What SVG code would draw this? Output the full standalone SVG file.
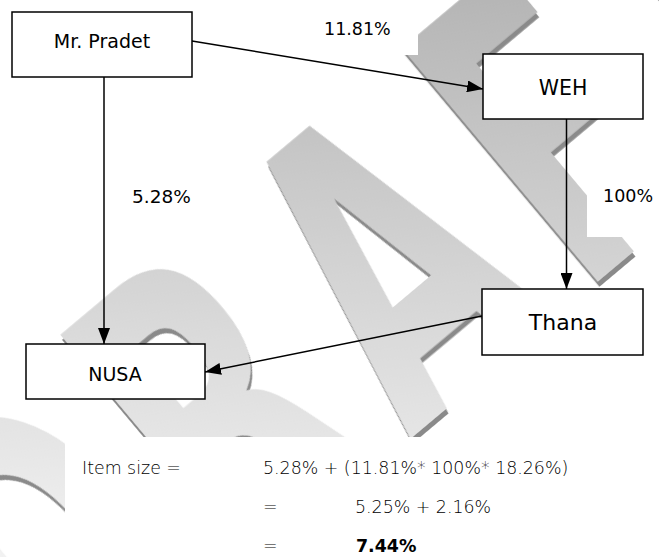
<svg xmlns="http://www.w3.org/2000/svg" width="659" height="557" viewBox="0 0 659 557">
<defs>
<style>
.box{fill:#fff;stroke:#000;stroke-width:1.5}
.nt{font-family:"DejaVu Sans","Liberation Sans",sans-serif;fill:#000;text-anchor:middle}
.lbl{font-family:"DejaVu Sans","Liberation Sans",sans-serif;fill:#000;font-size:17.5px}
.edge{stroke:#000;stroke-width:1.5;fill:none;marker-end:url(#arrow)}
.cover{fill:#fff}
.f{font-family:"DejaVu Sans","Liberation Sans",sans-serif;font-size:17.4px;font-weight:200;fill:#000}
.fb{font-family:"DejaVu Sans","Liberation Sans",sans-serif;font-size:17.4px;font-weight:bold;fill:#000}
.wm{font-family:"DejaVu Sans","Liberation Sans",sans-serif;font-weight:bold;font-size:418px}
</style>
<marker id="arrow" viewBox="0 0 16 12" refX="16" refY="6" markerWidth="16" markerHeight="12" markerUnits="userSpaceOnUse" orient="auto">
<path d="M0,0 L16,6 L0,12 z" fill="#000"/>
</marker>
<linearGradient id="wmGrad" gradientUnits="userSpaceOnUse" x1="0" y1="0" x2="0" y2="557" gradientTransform="scale(1.6667,1) rotate(40)">
<stop offset="0" stop-color="#b6b6b6"/>
<stop offset="1" stop-color="#f2f2f2"/>
</linearGradient>
<filter id="wmShadow" filterUnits="userSpaceOnUse" x="-800" y="250" width="2000" height="420">
<feOffset in="SourceAlpha" dx="-3" dy="5" result="off"/>
<feFlood flood-color="#8a8a8a"/>
<feComposite in2="off" operator="in" result="sh"/>
<feMerge><feMergeNode in="sh"/><feMergeNode in="SourceGraphic"/></feMerge>
</filter>
</defs>
<rect width="659" height="557" fill="#fff"/>
<g id="watermark">
<text class="wm" transform="rotate(-40) scale(0.6,1)" x="-705 -320 52 423 740" y="600" fill="url(#wmGrad)" filter="url(#wmShadow)">DRAFT</text>
</g>
<g id="covers">
<rect class="cover" x="300" y="0" width="118" height="55"/>
<rect class="cover" x="587" y="160" width="72" height="77"/>
<rect class="cover" x="65" y="437" width="594" height="120"/>
</g>
<g id="connectors">
<line class="edge" x1="192" y1="41" x2="483" y2="89"/>
<line class="edge" x1="104" y1="77" x2="104" y2="344"/>
<line class="edge" x1="566.5" y1="119" x2="566.5" y2="289"/>
<line class="edge" x1="482" y1="316" x2="205" y2="372"/>
</g>
<g id="node-mr-pradet">
<rect class="box" x="12" y="12" width="180" height="65"/>
<text class="nt" x="102" y="48" font-size="19">Mr. Pradet</text>
</g>
<g id="node-weh">
<rect class="box" x="483" y="54" width="160" height="65"/>
<text class="nt" x="563" y="95" font-size="20.5">WEH</text>
</g>
<g id="node-thana">
<rect class="box" x="482" y="289" width="161" height="66"/>
<text class="nt" x="563" y="330" font-size="22">Thana</text>
</g>
<g id="node-nusa">
<rect class="box" x="26" y="344" width="179" height="55"/>
<text class="nt" x="115" y="381" font-size="19">NUSA</text>
</g>
<g id="edge-labels">
<text class="lbl" x="324" y="35">11.81%</text>
<text class="lbl" x="132" y="203" style="font-size:18.5px">5.28%</text>
<text class="lbl" x="603" y="202">100%</text>
</g>
<g id="formula">
<text class="f" x="82" y="474">Item size =</text>
<text class="f" x="263" y="474">5.28% + (11.81%* 100%* 18.26%)</text>
<text class="f" x="263" y="513">=</text>
<text class="f" x="355" y="513">5.25% + 2.16%</text>
<text class="f" x="263" y="552">=</text>
<text class="fb" x="356" y="552">7.44%</text>
</g>
</svg>
